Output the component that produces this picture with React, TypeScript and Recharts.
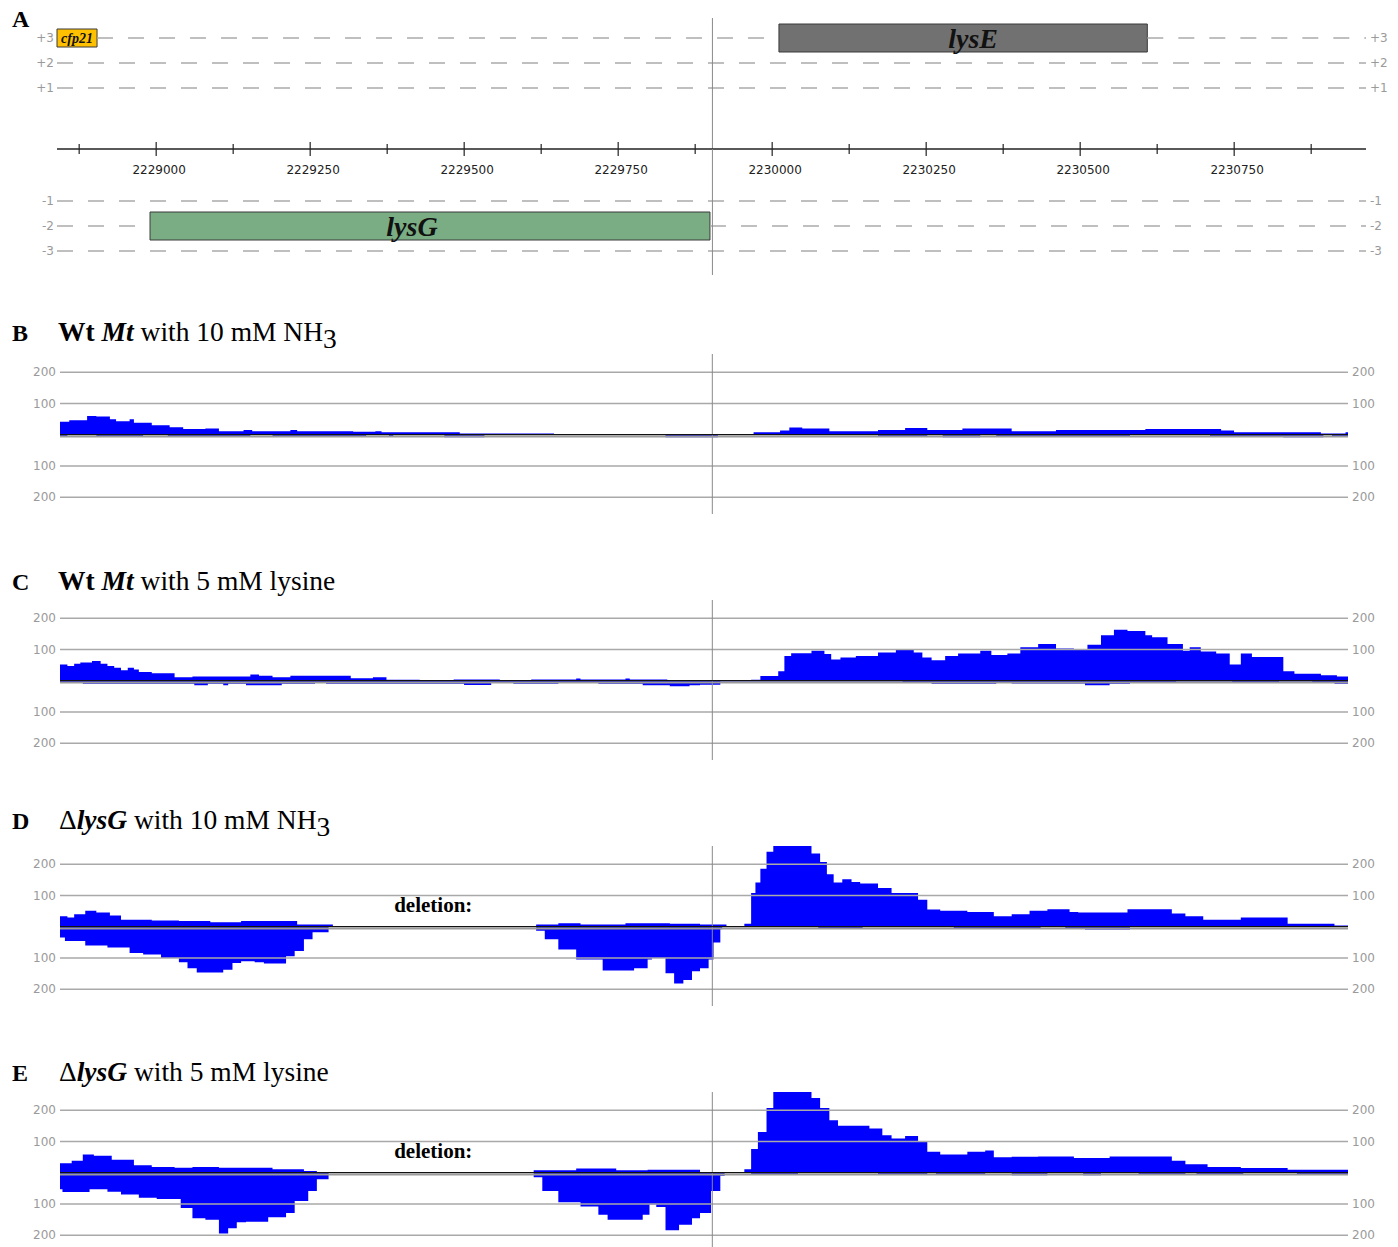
import React from "react";
import { Area, ComposedChart, ReferenceArea, ReferenceLine, XAxis, YAxis } from "recharts";

type Step = [number, number];

// genomic ruler (panel A)
const rulerTicks = [
  2228875, 2229000, 2229125, 2229250, 2229375, 2229500, 2229625, 2229750, 2229875,
  2230000, 2230125, 2230250, 2230375, 2230500, 2230625, 2230750, 2230875,
];
const trackRange: [number, number] = [2228839, 2230964];
const coverageRange: [number, number] = [2228844, 2230935];
const coverageEnd = 2230937;
const markerPos = 2229903;
const deletionRange: [number, number] = [2229287, 2229613];

const topFrames = [3, 2, 1];
const bottomFrames = [-1, -2, -3];

const geneNames = ["cfp21", "lysE", "lysG"];
const geneStarts = [2228839, 2230011, 2228990];
const geneEnds = [2228904, 2230609, 2229899];
const geneFrames = [3, 3, -2];

const coverageTicks = [-200, -100, 100, 200];

// read coverage, step starts [position, reads]
const wtNh3Plus: Step[] = [
  [2228843, 41], [2228859, 46], [2228888, 60], [2228903, 58], [2228925, 49], [2228935, 43],
  [2228957, 49], [2228964, 38], [2228993, 30], [2229022, 24], [2229044, 18], [2229080, 20],
  [2229102, 11], [2229142, 15], [2229156, 11], [2229218, 15], [2229229, 11], [2229320, 9],
  [2229356, 11], [2229366, 8], [2229493, 4], [2229646, 0], [2229970, 8], [2230013, 13],
  [2230028, 23], [2230049, 20], [2230093, 11], [2230172, 15], [2230216, 21], [2230252, 15],
  [2230309, 20], [2230389, 11], [2230461, 15], [2230606, 18], [2230729, 13], [2230750, 8],
  [2230891, 4], [2230931, 8],
];
const wtNh3Minus: Step[] = [
  [2228843, 4], [2228856, 1], [2228903, 7], [2228979, 1], [2229019, 7], [2229153, 1],
  [2229189, 7], [2229341, 1], [2229378, 7], [2229385, 1], [2229468, 8], [2229533, 1],
  [2229827, 8], [2229912, 1], [2230172, 5], [2230252, 1], [2230277, 8], [2230338, 1],
  [2230364, 4], [2230581, 1], [2230711, 5], [2230830, 8], [2230895, 1], [2230909, 5],
];

const wtLysPlus: Step[] = [
  [2228843, 52], [2228856, 47], [2228867, 54], [2228877, 58], [2228896, 63], [2228910, 54],
  [2228921, 47], [2228932, 41], [2228943, 33], [2228954, 41], [2228964, 36], [2228972, 28],
  [2228993, 24], [2229030, 11], [2229059, 13], [2229153, 20], [2229167, 16], [2229189, 11],
  [2229218, 16], [2229316, 8], [2229352, 11], [2229374, 3], [2229428, 0], [2229483, 4],
  [2229558, 0], [2229609, 4], [2229682, 7], [2229689, 4], [2229762, 7], [2229769, 4],
  [2229830, 0], [2229966, 3], [2229981, 15], [2230010, 30], [2230020, 79], [2230031, 88],
  [2230064, 96], [2230085, 85], [2230096, 68], [2230111, 74], [2230136, 79], [2230172, 90],
  [2230201, 98], [2230230, 90], [2230244, 74], [2230259, 65], [2230281, 79], [2230302, 87],
  [2230338, 96], [2230356, 82], [2230382, 87], [2230403, 107], [2230432, 117], [2230461, 103],
  [2230490, 98], [2230512, 115], [2230534, 145], [2230555, 163], [2230577, 159], [2230606, 145],
  [2230617, 139], [2230642, 117], [2230667, 96], [2230678, 107], [2230696, 93], [2230721, 87],
  [2230743, 52], [2230761, 87], [2230779, 76], [2230830, 30], [2230848, 22], [2230891, 17],
  [2230917, 13],
];
const wtLysMinus: Step[] = [
  [2228843, 7], [2228881, 10], [2229062, 15], [2229084, 10], [2229109, 15], [2229117, 10],
  [2229146, 15], [2229204, 10], [2229258, 6], [2229276, 10], [2229500, 14], [2229544, 6],
  [2229580, 10], [2229653, 6], [2229718, 10], [2229790, 15], [2229834, 18], [2229866, 15],
  [2229883, 13], [2229916, 3], [2230212, 5], [2230259, 10], [2230364, 5], [2230389, 9],
  [2230508, 15], [2230548, 10], [2230581, 7], [2230656, 3], [2230747, 7], [2230823, 3],
  [2230877, 7], [2230913, 10],
];

const delNh3Plus: Step[] = [
  [2228843, 33], [2228856, 29], [2228867, 40], [2228885, 51], [2228903, 45], [2228925, 36],
  [2228943, 22], [2228993, 20], [2229037, 18], [2229088, 14], [2229138, 18], [2229229, 7],
  [2229287, 0], [2229617, 7], [2229653, 11], [2229689, 7], [2229762, 11], [2229834, 9],
  [2229883, 7], [2229926, 0], [2229955, 9], [2229966, 108], [2229973, 141], [2229981, 185],
  [2229991, 240], [2230002, 270], [2230064, 234], [2230078, 207], [2230089, 168], [2230100, 141],
  [2230114, 152], [2230129, 143], [2230143, 138], [2230172, 124], [2230194, 108], [2230237, 86],
  [2230252, 55], [2230273, 51], [2230317, 47], [2230360, 33], [2230389, 40], [2230418, 51],
  [2230447, 56], [2230483, 47], [2230497, 45], [2230577, 56], [2230649, 42], [2230671, 33],
  [2230700, 22], [2230761, 29], [2230837, 9], [2230913, 4],
];
const delNh3Minus: Step[] = [
  [2228843, 35], [2228852, 46], [2228885, 60], [2228921, 67], [2228957, 84], [2228979, 89],
  [2229008, 100], [2229037, 114], [2229051, 133], [2229066, 147], [2229109, 138], [2229124, 116],
  [2229138, 111], [2229160, 114], [2229175, 118], [2229211, 95], [2229225, 78], [2229240, 40],
  [2229254, 18], [2229280, 0], [2229617, 13], [2229631, 40], [2229653, 73], [2229682, 105],
  [2229725, 140], [2229776, 133], [2229798, 105], [2229805, 100], [2229827, 149], [2229841, 182],
  [2229856, 171], [2229870, 143], [2229883, 133], [2229897, 105], [2229905, 51], [2229916, 8],
  [2229919, 0], [2230075, 4], [2230147, 0], [2230295, 4], [2230436, 0], [2230476, 4],
  [2230508, 9], [2230581, 0],
];

const delLysPlus: Step[] = [
  [2228843, 30], [2228863, 38], [2228881, 58], [2228899, 54], [2228928, 41], [2228964, 24],
  [2228993, 18], [2229030, 16], [2229059, 18], [2229102, 16], [2229189, 11], [2229240, 5],
  [2229261, 0], [2229613, 8], [2229682, 13], [2229747, 8], [2229798, 9], [2229883, 0],
  [2229955, 11], [2229966, 76], [2229977, 130], [2229991, 207], [2230002, 270], [2230064, 239],
  [2230078, 207], [2230093, 168], [2230107, 150], [2230158, 141], [2230179, 120], [2230194, 109],
  [2230216, 117], [2230237, 98], [2230252, 67], [2230273, 58], [2230317, 67], [2230346, 71],
  [2230360, 49], [2230389, 51], [2230432, 52], [2230490, 47], [2230548, 52], [2230649, 38],
  [2230671, 27], [2230707, 18], [2230761, 15], [2230837, 9],
];
const delLysMinus: Step[] = [
  [2228843, 53], [2228848, 62], [2228892, 53], [2228921, 61], [2228943, 70], [2228972, 80],
  [2229001, 84], [2229040, 113], [2229059, 146], [2229080, 151], [2229102, 195], [2229117, 178],
  [2229131, 159], [2229146, 157], [2229182, 143], [2229211, 129], [2229225, 91], [2229247, 59],
  [2229261, 21], [2229280, 0], [2229613, 15], [2229627, 59], [2229653, 95], [2229689, 108],
  [2229718, 135], [2229733, 151], [2229790, 135], [2229801, 102], [2229812, 110], [2229827, 184],
  [2229849, 167], [2229870, 146], [2229883, 129], [2229901, 59], [2229916, 10], [2229923, 0],
  [2229966, 4], [2230042, 0], [2230172, 4], [2230252, 0], [2230266, 4], [2230346, 0],
  [2230389, 8], [2230447, 0], [2230505, 8], [2230534, 0], [2230595, 4], [2230671, 0],
  [2230689, 4], [2230765, 0], [2230852, 4],
];

const SERIF = "'Liberation Serif', 'Times New Roman', serif";
const SANS = "'DejaVu Sans', 'Open Sans', sans-serif";
const BLUE = "#0000ff";

function valueAt(steps: Step[], pos: number): number {
  let v = 0;
  for (const [p, val] of steps) {
    if (p <= pos) v = val;
    else break;
  }
  return v;
}

function buildTable(plus: Step[], minus: Step[]) {
  const positions = Array.from(
    new Set([...plus.map((s) => s[0]), ...minus.map((s) => s[0]), coverageEnd])
  ).sort((a, b) => a - b);
  return positions.map((pos) => ({
    pos,
    plus: valueAt(plus, pos),
    minus: -valueAt(minus, pos),
  }));
}

// dashed frame line pieces that are not covered by a gene box
function frameSegments(frame: number): [number, number][] {
  const blocks = geneNames
    .map((_, i) => i)
    .filter((i) => geneFrames[i] === frame)
    .map((i) => [geneStarts[i], geneEnds[i]] as [number, number])
    .sort((a, b) => a[0] - b[0]);
  const segs: [number, number][] = [];
  let cur = trackRange[0];
  for (const [s, e] of blocks) {
    if (s > cur) segs.push([cur, s]);
    cur = Math.max(cur, e);
  }
  if (cur < trackRange[1]) segs.push([cur, trackRange[1]]);
  return segs;
}

const geneFill: Record<string, string> = { cfp21: "#ffc000", lysE: "#717171", lysG: "#7bad84" };
const geneLabelShift: Record<string, number> = { cfp21: 0, lysE: 10, lysG: -18 };

function geneLabel(name: string) {
  const small = name === "cfp21";
  return (props: any) => {
    const vb = props.viewBox;
    if (!vb) return null;
    return (
      <text
        x={vb.x + vb.width / 2 + geneLabelShift[name]}
        y={vb.y + vb.height / 2}
        textAnchor="middle"
        dominantBaseline="central"
        fontFamily={SERIF}
        fontWeight="bold"
        fontStyle="italic"
        fontSize={small ? 14 : 28}
        fill="#111"
      >
        {name}
      </text>
    );
  };
}

function deletionLabel(props: any) {
  const vb = props.viewBox;
  if (!vb) return null;
  return (
    <text
      x={vb.x + vb.width / 2}
      y={vb.y + vb.height / 2}
      textAnchor="middle"
      dominantBaseline="central"
      fontFamily={SERIF}
      fontWeight="bold"
      fontSize={21}
      fill="#000"
    >
      deletion:
    </text>
  );
}

function RulerTick(props: any) {
  const { x, y, payload } = props;
  const major = payload.value % 250 === 0;
  const h = major ? 7 : 5;
  return (
    <g>
      <line x1={x} x2={x} y1={y - h} y2={y + h} stroke="#222" strokeWidth={1.2} />
      {major && (
        <text x={x + 3} y={y + 25} textAnchor="middle" fill="#222" fontSize={12} fontFamily={SANS}>
          {payload.value}
        </text>
      )}
    </g>
  );
}

const frameTick = { fill: "#9a9a9a", fontSize: 12, fontFamily: SANS };

function frameLines(frames: number[]) {
  return frames.flatMap((f) =>
    frameSegments(f).map(([a, b]) => (
      <ReferenceLine
        key={`${f}-${a}`}
        yAxisId="l"
        segment={[{ x: a, y: f }, { x: b, y: f }]}
        stroke="#ababab"
        strokeWidth={1.5}
        strokeDasharray="16 15"
      />
    ))
  );
}

function geneAreas(frames: number[]) {
  return geneNames.map((name, i) =>
    frames.includes(geneFrames[i]) ? (
      <ReferenceArea
        key={name}
        yAxisId="l"
        x1={geneStarts[i]}
        x2={geneEnds[i]}
        y1={geneFrames[i] - (name === "cfp21" ? 0.36 : 0.56)}
        y2={geneFrames[i] + (name === "cfp21" ? 0.36 : 0.56)}
        fill={geneFill[name]}
        fillOpacity={1}
        stroke="#3a3a3a"
        strokeWidth={1}
        ifOverflow="visible"
        label={geneLabel(name)}
      />
    ) : null
  );
}

function TrackTop() {
  const data = trackRange.map((pos) => ({ pos }));
  return (
    <div style={{ position: "absolute", left: 0, top: 0 }}>
      <ComposedChart width={1398} height={179} data={data} margin={{ top: 18, right: 4, bottom: 0, left: 17 }}>
        <XAxis
          dataKey="pos"
          type="number"
          domain={trackRange}
          allowDataOverflow
          ticks={rulerTicks}
          interval={0}
          tick={<RulerTick />}
          tickSize={0}
          tickMargin={0}
          tickLine={false}
          height={30}
          axisLine={{ stroke: "#222", strokeWidth: 1.5 }}
        />
        <YAxis yAxisId="l" type="number" domain={[-1.44, 3.8]} ticks={[1, 2, 3]} tickFormatter={(v) => "+" + v}
          tick={frameTick} axisLine={false} tickLine={false} tickSize={0} tickMargin={3} width={40} allowDataOverflow />
        <YAxis yAxisId="r" orientation="right" type="number" domain={[-1.44, 3.8]} ticks={[1, 2, 3]}
          tickFormatter={(v) => "+" + v} tick={frameTick} axisLine={false} tickLine={false} tickSize={0}
          tickMargin={4} width={28} allowDataOverflow />
        {frameLines(topFrames)}
        {geneAreas(topFrames)}
        <ReferenceLine yAxisId="l" x={markerPos} stroke="#8a8a8a" strokeWidth={1} />
      </ComposedChart>
    </div>
  );
}

function TrackBottom() {
  const data = trackRange.map((pos) => ({ pos }));
  return (
    <div style={{ position: "absolute", left: 0, top: 149 }}>
      <ComposedChart width={1398} height={126} data={data} margin={{ top: 0, right: 4, bottom: 0, left: 17 }}>
        <XAxis dataKey="pos" type="number" domain={trackRange} allowDataOverflow hide />
        <YAxis yAxisId="l" type="number" domain={[-3.96, 1.08]} ticks={[-1, -2, -3]} tick={frameTick}
          axisLine={false} tickLine={false} tickSize={0} tickMargin={3} width={40} allowDataOverflow />
        <YAxis yAxisId="r" orientation="right" type="number" domain={[-3.96, 1.08]} ticks={[-1, -2, -3]}
          tick={frameTick} axisLine={false} tickLine={false} tickSize={0} tickMargin={4} width={28} allowDataOverflow />
        {frameLines(bottomFrames)}
        {geneAreas(bottomFrames)}
        <ReferenceLine yAxisId="l" x={markerPos} stroke="#8a8a8a" strokeWidth={1} />
      </ComposedChart>
    </div>
  );
}

const coverageTick = { fill: "#9a9a9a", fontSize: 12, fontFamily: SANS };

function CoveragePanel({ top, plus, minus, deletion }: { top: number; plus: Step[]; minus: Step[]; deletion?: boolean }) {
  const data = buildTable(plus, minus);
  return (
    <div style={{ position: "absolute", left: 0, top }}>
      <ComposedChart width={1398} height={170} data={data} margin={{ top: 5, right: 10, bottom: 5, left: 15 }}>
        <XAxis dataKey="pos" type="number" domain={coverageRange} allowDataOverflow hide />
        <YAxis yAxisId="l" type="number" domain={[-254, 258]} allowDataOverflow ticks={coverageTicks}
          tickFormatter={(v) => String(Math.abs(v))} tick={coverageTick} axisLine={false} tickLine={false}
          tickSize={0} tickMargin={4} width={45} />
        <YAxis yAxisId="r" orientation="right" type="number" domain={[-254, 258]} allowDataOverflow
          ticks={coverageTicks} tickFormatter={(v) => String(Math.abs(v))} tick={coverageTick} axisLine={false}
          tickLine={false} tickSize={0} tickMargin={4} width={40} />
        <Area yAxisId="l" type="stepAfter" dataKey="plus" fill={BLUE} fillOpacity={1} stroke="none" isAnimationActive={false} />
        <Area yAxisId="l" type="stepAfter" dataKey="minus" fill={BLUE} fillOpacity={1} stroke="none" isAnimationActive={false} />
        {coverageTicks.map((t) => (
          <ReferenceLine key={t} yAxisId="l" y={t} stroke="#a9a9a9" strokeWidth={1.5} />
        ))}
        <ReferenceLine yAxisId="l" x={markerPos} stroke="#8a8a8a" strokeWidth={1} />
        <ReferenceLine yAxisId="l" y={0} stroke="#111" strokeWidth={1.3} />
        <ReferenceLine yAxisId="l" y={-6} stroke="#9a9a9a" strokeWidth={2} />
        {deletion && (
          <ReferenceArea yAxisId="l" x1={deletionRange[0]} x2={deletionRange[1]} y1={45} y2={92}
            fill="none" stroke="none" ifOverflow="visible" label={deletionLabel} />
        )}
      </ComposedChart>
    </div>
  );
}

function Titles() {
  const letter = { fontFamily: SERIF, fontWeight: "bold" as const, fontSize: 24, fill: "#000" };
  const title = { fontFamily: SERIF, fontSize: 27.5, fill: "#000" };
  return (
    <svg width={1398} height={1247} style={{ position: "absolute", left: 0, top: 0, pointerEvents: "none" }}>
      <text x={12} y={27} {...letter}>A</text>

      <text x={12} y={341} {...letter}>B</text>
      <text x={58} y={341} {...title}>
        <tspan fontWeight="bold">Wt </tspan>
        <tspan fontWeight="bold" fontStyle="italic">Mt</tspan>
        <tspan> with 10 mM NH</tspan>
        <tspan dy={7}>3</tspan>
      </text>

      <text x={12} y={590} {...letter}>C</text>
      <text x={58} y={590} {...title}>
        <tspan fontWeight="bold">Wt </tspan>
        <tspan fontWeight="bold" fontStyle="italic">Mt</tspan>
        <tspan> with 5 mM lysine</tspan>
      </text>

      <text x={12} y={829} {...letter}>D</text>
      <text x={59} y={829} {...title}>
        <tspan>Δ</tspan>
        <tspan fontWeight="bold" fontStyle="italic">lysG</tspan>
        <tspan> with 10 mM NH</tspan>
        <tspan dy={7}>3</tspan>
      </text>

      <text x={12} y={1081} {...letter}>E</text>
      <text x={59} y={1081} {...title}>
        <tspan>Δ</tspan>
        <tspan fontWeight="bold" fontStyle="italic">lysG</tspan>
        <tspan> with 5 mM lysine</tspan>
      </text>
    </svg>
  );
}

export default function App() {
  return (
    <div style={{ position: "absolute", left: 0, top: 0, width: 1398, height: 1247, background: "#fff" }}>
      <TrackTop />
      <TrackBottom />
      <CoveragePanel top={349} plus={wtNh3Plus} minus={wtNh3Minus} />
      <CoveragePanel top={595} plus={wtLysPlus} minus={wtLysMinus} />
      <CoveragePanel top={841} plus={delNh3Plus} minus={delNh3Minus} deletion />
      <CoveragePanel top={1087} plus={delLysPlus} minus={delLysMinus} deletion />
      <Titles />
    </div>
  );
}
